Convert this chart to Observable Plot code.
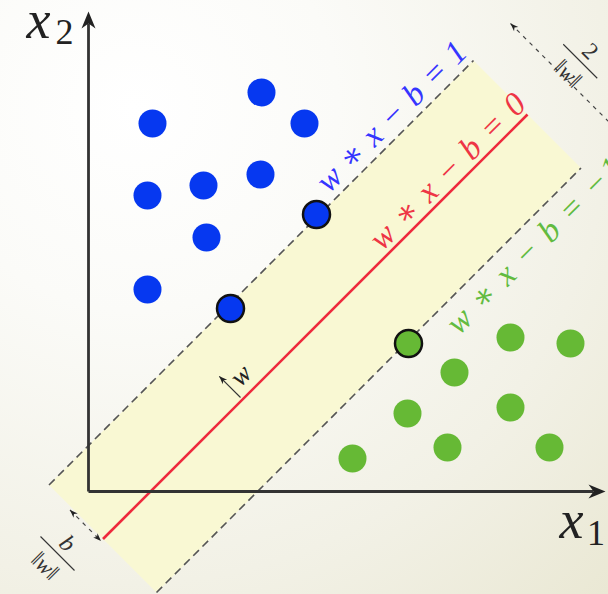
<!DOCTYPE html>
<html><head><meta charset="utf-8">
<style>
html,body{margin:0;padding:0;background:#fff;}
#chart{width:608px;height:594px;background:radial-gradient(circle at 22% 18%, #ffffff 0%, #fbfbf8 30%, #f2f1e6 70%, #eae8d4 100%);}
#chart svg{display:block;}
</style>
<script src="https://cdn.jsdelivr.net/npm/d3@7"></script>
<script src="https://cdn.jsdelivr.net/npm/@observablehq/plot@0.6"></script>
</head><body><div id="chart"></div>
<script>
// ---- data (plot units; origin where the two axes meet) ----
const blueX = [6.4, 17.3, 21.6, 5.9, 11.5, 17.2, 11.8, 5.9];
const blueY = [36.8, 39.9, 36.8, 29.6, 30.6, 31.7, 25.4, 20.2];
const blueSupportX = [22.8, 14.2];
const blueSupportY = [27.7, 18.3];
const greenX = [42.2, 48.2, 36.6, 31.9, 42.2, 46.1, 35.9, 26.4];
const greenY = [15.4, 14.8, 11.9, 7.8, 8.4, 4.4, 4.4, 3.3];
const greenSupportX = [32.0];
const greenSupportY = [14.8];
const lineLevels = ["1", "0", "−1"];          // value of w∗x−b on each line
const lineOffsets = [-4.6, 6.2, 16.9];         // lines: x1 − x2 = offset
const bandStart = -3.3, bandEnd = 81.6;        // extent along the lines (x1 + x2)
const axisEnds = [51.7, 48.0];                 // x1 axis end, x2 axis end
const axisLabels = ["x", "1", "x", "2"];

// ---- helpers ----
const pt = (t, c) => ({x: (t + c) / 2, y: (t - c) / 2});
function head(id, tip, dir, len, hw) {
  const [dx, dy] = dir, px = -dy, py = dx;
  return [
    {id, x: tip.x, y: tip.y},
    {id, x: tip.x - dx * len + px * hw, y: tip.y - dy * len + py * hw},
    {id, x: tip.x - dx * len * 0.7, y: tip.y - dy * len * 0.7},
    {id, x: tip.x - dx * len - px * hw, y: tip.y - dy * len - py * hw},
    {id, x: tip.x, y: tip.y}
  ];
}
const s2 = Math.SQRT1_2;
const [cUp, cMid, cLow] = lineOffsets;

const band = [pt(bandStart, cUp), pt(bandStart, cLow), pt(bandEnd, cLow), pt(bandEnd, cUp)];
const lines = lineOffsets.map((c, i) => {
  const a = pt(bandStart, c), b = pt(bandEnd, c);
  return {level: lineLevels[i], x1: a.x, y1: a.y, x2: b.x, y2: b.y};
});
const dashed = lines.filter(d => d.level !== "0");
const solid = lines.filter(d => d.level === "0");

const blue = blueX.map((x, i) => ({x, y: blueY[i]}));
const blueSV = blueSupportX.map((x, i) => ({x, y: blueSupportY[i]}));
const green = greenX.map((x, i) => ({x, y: greenY[i]}));
const greenSV = greenSupportX.map((x, i) => ({x, y: greenSupportY[i]}));

// margin arrow (2/||w||) and offset arrow (b/||w||)
const tTop = 89.0, tBot = -3.7;
const mA = pt(tTop, cUp), mB = pt(tTop, cLow);
const oA = pt(tBot, 0), oB = pt(tBot, cMid);
// w vector
const wTail = pt(24.6, cMid - 0.4);
const wTip = {x: wTail.x - 3.0 * s2, y: wTail.y + 3.0 * s2};

const heads = [
  ...head("ax1", {x: axisEnds[0], y: 0}, [1, 0], 1.7, 0.7),
  ...head("ax2", {x: 0, y: axisEnds[1]}, [0, 1], 1.7, 0.7),
  ...head("m1", mA, [-s2, s2], 0.8, 0.3),
  ...head("m2", mB, [s2, -s2], 0.8, 0.3),
  ...head("o1", oA, [-s2, s2], 0.8, 0.3),
  ...head("o2", oB, [s2, -s2], 0.8, 0.3),
  ...head("w", wTip, [-s2, s2], 0.8, 0.32)
];

// fractions
const fracTop = {t: 92.2, c: (cUp + cLow) / 2};
const fracBot = {t: -9.3, c: cMid / 2};
function fraction(f, num) {
  const barA = pt(f.t, f.c - 3.4), barB = pt(f.t, f.c + 3.4);
  return {
    bar: {x1: barA.x, y1: barA.y, x2: barB.x, y2: barB.y},
    num: {...pt(f.t + 2.0, f.c), text: num},
    den: {...pt(f.t - 2.5, f.c), text: "‖w‖"}
  };
}
const fT = fraction(fracTop, "2"), fB = fraction(fracBot, "b");

const serif = "Liberation Serif";
const eq = lvl => `w ∗ x − b = ${lvl}`;
const blueLbl = pt(67.8, cUp - 2.6), redLbl = pt(67.9, cMid - 2.3), greenLbl = pt(52.6, cLow + 3.1);

const chart = Plot.plot({
  width: 608, height: 594,
  margin: 0,
  x: {domain: [-8.8, 52.0], axis: null},
  y: {domain: [-10.3, 49.1], axis: null},
  marks: [
    Plot.line(band, {x: "x", y: "y", fill: "#f9f8d3", stroke: "none"}),
    Plot.link(dashed, {x1: "x1", y1: "y1", x2: "x2", y2: "y2", stroke: "#555", strokeWidth: 1.6, strokeDasharray: "8,5"}),
    Plot.link(solid, {x1: "x1", y1: "y1", x2: "x2", y2: "y2", stroke: "#ee2a3c", strokeWidth: 2.6}),
    Plot.link([{x1: 0, y1: 0, x2: axisEnds[0] - 1.2, y2: 0}, {x1: 0, y1: 0, x2: 0, y2: axisEnds[1] - 1.2}],
      {x1: "x1", y1: "y1", x2: "x2", y2: "y2", stroke: "#333", strokeWidth: 2.8}),
    Plot.link([{x1: mA.x, y1: mA.y, x2: mB.x, y2: mB.y}, {x1: oA.x, y1: oA.y, x2: oB.x, y2: oB.y}],
      {x1: "x1", y1: "y1", x2: "x2", y2: "y2", stroke: "#444", strokeWidth: 1.2, strokeDasharray: "4,5"}),
    Plot.link([{x1: wTail.x, y1: wTail.y, x2: wTip.x, y2: wTip.y}],
      {x1: "x1", y1: "y1", x2: "x2", y2: "y2", stroke: "#333", strokeWidth: 1.1}),
    Plot.line(heads, {x: "x", y: "y", z: "id", fill: "#222", stroke: "none"}),
    Plot.link([fT.bar, fB.bar], {x1: "x1", y1: "y1", x2: "x2", y2: "y2", stroke: "#333", strokeWidth: 1.1}),
    Plot.dot(blue, {x: "x", y: "y", r: 14, fill: "#0638f0", stroke: "none"}),
    Plot.dot(blueSV, {x: "x", y: "y", r: 13.5, fill: "#0638f0", stroke: "#111", strokeWidth: 2.5}),
    Plot.dot(green, {x: "x", y: "y", r: 14, fill: "#66b935", stroke: "none"}),
    Plot.dot(greenSV, {x: "x", y: "y", r: 13.5, fill: "#66b935", stroke: "#111", strokeWidth: 2.5}),
    Plot.text([{...blueLbl, text: eq(lineLevels[0])}], {x: "x", y: "y", text: "text", rotate: -45, fontSize: 33, fontStyle: "italic", fontFamily: serif, fill: "#3535ff"}),
    Plot.text([{...redLbl, text: eq(lineLevels[1])}], {x: "x", y: "y", text: "text", rotate: -45, fontSize: 33, fontStyle: "italic", fontFamily: serif, fill: "#ee3545"}),
    Plot.text([{...greenLbl, text: eq(lineLevels[2])}], {x: "x", y: "y", text: "text", rotate: -45, fontSize: 33, fontStyle: "italic", fontFamily: serif, fill: "#62bb40", textAnchor: "start"}),
    Plot.text([{x: wTip.x + 2.2 * s2 + 0.6, y: wTip.y + 0.1, text: "w"}], {x: "x", y: "y", text: "text", rotate: -45, fontSize: 27, fontStyle: "italic", fontFamily: serif, fill: "#222"}),
    Plot.text([fT.num], {x: "x", y: "y", text: "text", rotate: 45, fontSize: 24, fontFamily: serif, fill: "#333"}),
    Plot.text([fB.num], {x: "x", y: "y", text: "text", rotate: 45, fontSize: 24, fontStyle: "italic", fontFamily: serif, fill: "#333"}),
    Plot.text([fT.den, fB.den], {x: "x", y: "y", text: "text", rotate: 45, fontSize: 23, fontStyle: "italic", fontFamily: serif, fill: "#333"}),
    Plot.text([{x: -5.0, y: 47.1, text: axisLabels[2]}, {x: 48.3, y: -2.95, text: axisLabels[0]}],
      {x: "x", y: "y", text: "text", fontSize: 54, fontStyle: "italic", fontFamily: serif, fill: "#222"}),
    Plot.text([{x: -2.4, y: 45.95, text: axisLabels[3]}, {x: 50.75, y: -4.15, text: axisLabels[1]}],
      {x: "x", y: "y", text: "text", fontSize: 36, fontFamily: serif, fill: "#222"})
  ]
});
chart.style.background = "transparent";
chart.setAttribute("font-family", "Liberation Serif");

// copy the font settings of every text group onto its own texts
d3.select(chart).selectAll("g").each(function () {
  const g = this;
  const fam = g.getAttribute("font-family"), sty = g.getAttribute("font-style"), siz = g.getAttribute("font-size");
  d3.select(g).selectAll(":scope > text").each(function () {
    if (fam) { this.setAttribute("font-family", fam); this.style.fontFamily = `'${fam}'`; }
    if (sty) { this.setAttribute("font-style", sty); this.style.fontStyle = sty; }
    if (siz) { this.setAttribute("font-size", siz); this.style.fontSize = `${siz}px`; }
  });
});

// centred asterisk and label lengths
const eqLengths = {"1": 198, "0": 206, "−1": 234};
d3.select(chart).selectAll("text").each(function () {
  const s = this.textContent;
  if (s.includes("∗")) {
    const [a, b] = s.split("∗");
    const sel = d3.select(this).text("");
    sel.append("tspan").text(a);
    sel.append("tspan").attr("font-family", "DejaVu Serif").attr("font-style", "normal")
      .style("font-family", "'DejaVu Serif'").style("font-style", "normal").text("∗");
    sel.append("tspan").text(b);
    const lvl = s.split("= ")[1];
    this.setAttribute("textLength", eqLengths[lvl]);
    this.setAttribute("lengthAdjust", "spacing");
  }
});
document.getElementById("chart").append(chart);
</script>
</body></html>
